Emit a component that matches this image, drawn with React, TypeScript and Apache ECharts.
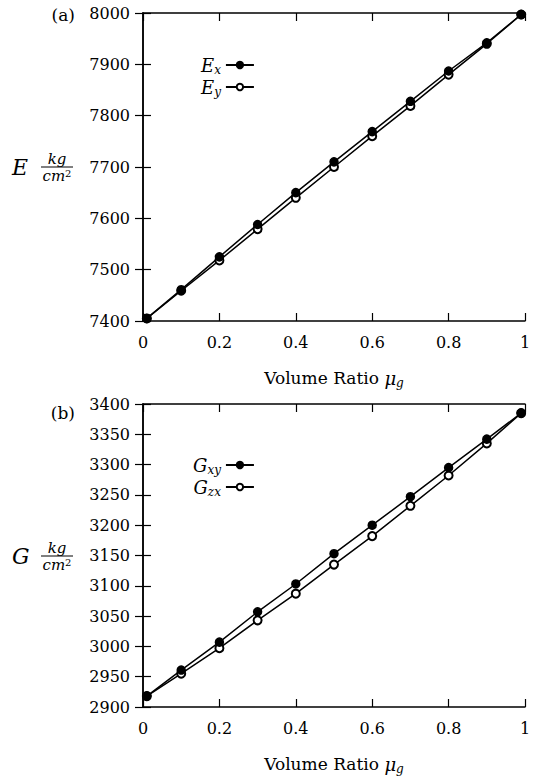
import React, { useEffect, useRef } from "react";
import * as echarts from "echarts";

const xValues = [0.01, 0.1, 0.2, 0.3, 0.4, 0.5, 0.6, 0.7, 0.8, 0.9, 0.99];
const exValues = [7405, 7461, 7525, 7588, 7650, 7710, 7769, 7828, 7887, 7942, 7997];
const eyValues = [7405, 7459, 7518, 7579, 7640, 7700, 7760, 7819, 7880, 7940, 7997];
const gxyValues = [2918, 2961, 3007, 3057, 3103, 3153, 3200, 3247, 3295, 3342, 3385];
const gzxValues = [2918, 2955, 2997, 3043, 3087, 3135, 3182, 3232, 3282, 3335, 3385];

const FONT = "'DejaVu Serif', 'Liberation Serif', serif";
const legendLabels: Record<string, string> = {
  Ex: "{i|E}{s|x}",
  Ey: "{i|E}{s|y}",
  Gxy: "{i|G}{s|xy}",
  Gzx: "{i|G}{s|zx}",
};

const richSub = {
  i: { fontFamily: FONT, fontStyle: "italic", fontSize: 18, lineHeight: 22, color: "#000" },
  s: { fontFamily: FONT, fontStyle: "italic", fontSize: 12, lineHeight: 10, verticalAlign: "bottom", color: "#000" },
  n: { fontFamily: FONT, fontSize: 17, lineHeight: 22, color: "#000" },
};

function pairs(xs: number[], ys: number[]) {
  return xs.map((x, i) => [x, ys[i]]);
}

export default function App() {
  const ref = useRef<HTMLDivElement>(null);
  useEffect(() => {
    document.body.style.margin = "0";
    const chart = echarts.init(ref.current!, null, { renderer: "svg" });
    const axisLine = { show: true, lineStyle: { color: "#000", width: 1.5 } };
    const tick = { show: true, inside: true, length: 8, lineStyle: { color: "#000", width: 1.2 } };
    const label = { color: "#000", fontFamily: FONT, fontSize: 16, formatter: (v: number) => String(v) };
    const xBottom = (g: number) => ({
      gridIndex: g, type: "value", min: 0, max: 1, interval: 0.2, position: "bottom",
      axisLine, axisTick: tick, splitLine: { show: false },
      axisLabel: { ...label, margin: 13 },
      name: "{n|Volume Ratio }{i|μ}{s|g}", nameLocation: "middle", nameGap: 46,
      nameTextStyle: { rich: richSub },
    });
    const xTop = (g: number) => ({
      gridIndex: g, type: "value", min: 0, max: 1, interval: 0.2, position: "top",
      axisLine, axisTick: tick, splitLine: { show: false }, axisLabel: { show: false },
    });
    const yLeft = (g: number, min: number, max: number, interval: number) => ({
      gridIndex: g, type: "value", min, max, interval, position: "left",
      axisLine, axisTick: tick, splitLine: { show: false },
      axisLabel: { ...label, margin: 13 },
    });
    const yRight = (g: number, min: number, max: number, interval: number) => ({
      gridIndex: g, type: "value", min, max, interval, position: "right",
      axisLine, axisTick: tick, splitLine: { show: false }, axisLabel: { show: false },
    });
    const lineSeries = (name: string, xi: number, yi: number, data: number[][], filled: boolean) => ({
      name, type: "line", xAxisIndex: xi, yAxisIndex: yi, data,
      symbol: filled ? "circle" : "emptyCircle", symbolSize: 8,
      lineStyle: { color: "#000", width: 1.5 },
      itemStyle: { color: "#000", borderColor: "#000", borderWidth: 1.5 },
      z: filled ? 3 : 2,
    });
    const legendCommon = {
      orient: "vertical", align: "right", itemWidth: 28, itemHeight: 8, itemGap: 2,
      formatter: (n: string) => legendLabels[n],
      textStyle: { rich: richSub },
      inactiveColor: "#000",
    };
    const yTitle = (letter: string, cy: number) => [
      { type: "text", x: 12, y: cy, style: { text: letter, font: `italic 22px ${FONT}`, fill: "#000", align: "left", verticalAlign: "middle" } },
      { type: "text", x: 57, y: cy - 8, style: { text: "kg", font: `italic 15px ${FONT}`, fill: "#000", align: "center", verticalAlign: "middle" } },
      { type: "line", shape: { x1: 41, y1: cy, x2: 73, y2: cy }, style: { stroke: "#000", lineWidth: 1 } },
      {
        type: "text", x: 57, y: cy + 9,
        style: {
          text: "{c|cm}{p|2}", align: "center", verticalAlign: "middle", fill: "#000",
          rich: {
            c: { fontFamily: FONT, fontStyle: "italic", fontSize: 15, lineHeight: 16, fill: "#000" },
            p: { fontFamily: FONT, fontSize: 10, lineHeight: 10, verticalAlign: "top", fill: "#000" },
          },
        },
      },
    ];
    chart.setOption({
      animation: false,
      backgroundColor: "#fff",
      grid: [
        { left: 143, top: 13, width: 382, height: 308 },
        { left: 143, top: 404, width: 382, height: 304 },
      ],
      xAxis: [xBottom(0), xTop(0), xBottom(1), xTop(1)],
      yAxis: [yLeft(0, 7400, 8000, 100), yRight(0, 7400, 8000, 100), yLeft(1, 2900, 3400, 50), yRight(1, 2900, 3400, 50)],
      legend: [
        { ...legendCommon, data: ["Ex", "Ey"], left: 196, top: 51 },
        { ...legendCommon, data: ["Gxy", "Gzx"], left: 188, top: 451 },
      ],
      series: [
        lineSeries("Ey", 0, 0, pairs(xValues, eyValues), false),
        lineSeries("Ex", 0, 0, pairs(xValues, exValues), true),
        lineSeries("Gzx", 2, 2, pairs(xValues, gzxValues), false),
        lineSeries("Gxy", 2, 2, pairs(xValues, gxyValues), true),
      ],
      graphic: [
        { type: "text", x: 75, y: 15, style: { text: "(a)", font: `17px ${FONT}`, fill: "#000", align: "right", verticalAlign: "middle" } },
        { type: "text", x: 75, y: 413, style: { text: "(b)", font: `17px ${FONT}`, fill: "#000", align: "right", verticalAlign: "middle" } },
        ...yTitle("E", 167),
        ...yTitle("G", 556),
      ],
    });
    return () => chart.dispose();
  }, []);
  return <div ref={ref} style={{ width: 538, height: 776 }} />;
}
